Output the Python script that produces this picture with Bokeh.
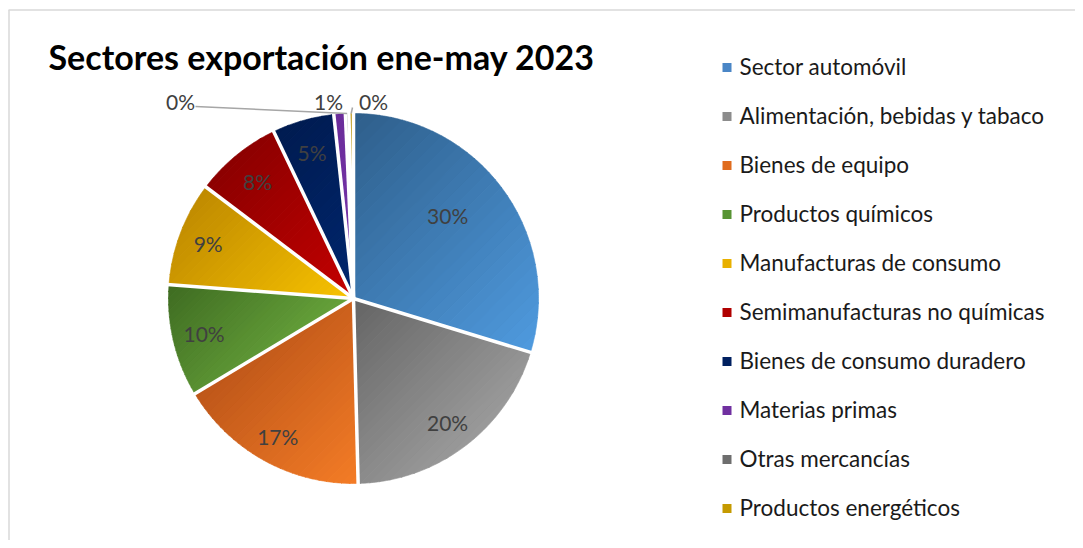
import numpy as np
from bokeh.plotting import figure
from bokeh.models import Range1d
from bokeh.core.properties import value
from bokeh.embed import file_html
from bokeh.resources import INLINE

# ---------------- data ----------------
title_text = "Sectores exportación ene-may 2023"
categories = [
    "Sector automóvil",
    "Alimentación, bebidas y tabaco",
    "Bienes de equipo",
    "Productos químicos",
    "Manufacturas de consumo",
    "Semimanufacturas no químicas",
    "Bienes de consumo duradero",
    "Materias primas",
    "Otras mercancías",
    "Productos energéticos",
]
shares = [29.7, 19.9, 16.8, 9.8, 9.1, 7.6, 5.4, 1.0, 0.3, 0.4]

# ---------------- styles ----------------
dark_colors = ["#2E5E8A", "#646464", "#BD5619", "#3E6B21", "#BF8A00",
               "#8C0000", "#001B50", "#6A2C99", "#5A5A5A", "#B58C00"]
light_colors = ["#4F9ADE", "#9A9A9A", "#F47C26", "#66A23A", "#F8C300",
                "#C40000", "#00266E", "#7A36AE", "#7A7A7A", "#D4A400"]
legend_colors = ["#4A86C6", "#8C8C8C", "#E06C1E", "#589434", "#E8B000",
                 "#B00000", "#002060", "#7030A0", "#6E6E6E", "#C59A00"]
# inside-label placement (fraction of radius, angular offset deg)
inside_frac = [0.68, 0.84, 0.85, 0.83, 0.84, 0.82, 0.82]
inside_dang = [-5, 0, 0, 0, 0, 0, 0]
# outside labels: index -> (label offset from pie centre in px (screen), leader end offset from label)
outside = {7: ((-25, -197), None), 8: ((-173, -197), (15, 5)), 9: ((20, -197), (-21, 6))}

W, H = 1075, 540
FONT = "Lato"


def hex2rgb(h):
    h = h.lstrip("#")
    return np.array([int(h[i:i + 2], 16) for i in (0, 2, 4)], dtype=float)


def rgb2hex(c):
    c = np.clip(np.round(c), 0, 255).astype(int)
    return "#%02x%02x%02x" % tuple(c)


def sx(x):
    return x


def sy(y):
    return H - y


def clip(poly, a, b, c):
    out = []
    n = len(poly)
    for i in range(n):
        p1 = poly[i]
        p2 = poly[(i + 1) % n]
        v1 = a * p1[0] + b * p1[1] + c
        v2 = a * p2[0] + b * p2[1] + c
        if v1 >= 0:
            out.append(p1)
        if (v1 >= 0) != (v2 >= 0):
            t = v1 / (v1 - v2)
            out.append((p1[0] + t * (p2[0] - p1[0]), p1[1] + t * (p2[1] - p1[1])))
    return out


p = figure(width=W, height=H, x_range=Range1d(0, W), y_range=Range1d(0, H),
           min_border=0, toolbar_location=None, output_backend="svg",
           x_axis_location=None, y_axis_location=None)
p.grid.visible = False
p.outline_line_color = None
p.background_fill_color = "white"

# chart border (top & left visible)
p.segment(x0=[sx(8), sx(8.5)], y0=[sy(9.5), sy(9.5)], x1=[W, sx(8.5)], y1=[sy(9.5), 0],
          line_color="#D9D9D9", line_width=1.5)

cx, cy = sx(353), sy(298)
R = 185.0

frac = np.array(shares) / np.sum(shares)
cum = np.concatenate([[0], np.cumsum(frac)]) * 2 * np.pi  # clockwise from 12 o'clock

xs, ys, cols = [], [], []
K = 30
for i in range(len(shares)):
    t0, t1 = cum[i], cum[i + 1]
    n = max(6, int(np.degrees(t1 - t0) * 1.5))
    th = np.linspace(t0, t1, n)
    poly = [(cx, cy)] + [(cx + R * np.sin(t), cy + R * np.cos(t)) for t in th]
    proj = [(x - y) for x, y in poly]
    pmin, pmax = min(proj), max(proj)
    c0, c1 = hex2rgb(dark_colors[i]), hex2rgb(light_colors[i])
    edges = np.linspace(pmin, pmax, K + 1)
    for k in range(K):
        lo, hi = edges[k] - 0.4, edges[k + 1] + 0.4
        q = clip(poly, 1, -1, -lo)
        if len(q) < 3:
            continue
        q = clip(q, -1, 1, hi)
        if len(q) < 3:
            continue
        col = rgb2hex(c0 + (c1 - c0) * (k + 0.5) / K)
        xs.append([pt[0] for pt in q])
        ys.append([pt[1] for pt in q])
        cols.append(col)

p.patches(xs=xs, ys=ys, fill_color=cols, line_color=cols, line_width=0.6)

# white separators
sep_x0 = [cx] * len(shares)
sep_y0 = [cy] * len(shares)
sep_x1 = [cx + (R + 2) * np.sin(t) for t in cum[:-1]]
sep_y1 = [cy + (R + 2) * np.cos(t) for t in cum[:-1]]
p.segment(x0=sep_x0, y0=sep_y0, x1=sep_x1, y1=sep_y1, line_color="white", line_width=3.5)

labels = ["%d%%" % int(round(s)) for s in shares]

# inside labels
lx, ly, lt = [], [], []
for i in range(7):
    mid = (cum[i] + cum[i + 1]) / 2 + np.radians(inside_dang[i])
    r = R * inside_frac[i]
    lx.append(cx + r * np.sin(mid))
    ly.append(cy + r * np.cos(mid))
    lt.append(labels[i])
p.text(x=lx, y=ly, text=lt, text_font=value(FONT), text_font_size="21px",
       text_color="#404040", text_align="center", text_baseline="middle")

# outside labels with leader lines
ox, oy, ot = [], [], []
for i, (off, lead) in outside.items():
    tx, ty = cx + off[0], cy - off[1]
    ox.append(tx)
    oy.append(ty)
    ot.append(labels[i])
    if lead is not None:
        mid = (cum[i] + cum[i + 1]) / 2
        x0, y0 = cx + R * np.sin(mid), cy + R * np.cos(mid)
        x1, y1 = tx + lead[0], ty - lead[1]
        p.line(x=[x0, x1], y=[y0, y1], line_color="#A6A6A6", line_width=1.5)
p.text(x=ox, y=oy, text=ot, text_font=value(FONT), text_font_size="21px",
       text_color="#404040", text_align="center", text_baseline="middle")

# title
p.text(x=[sx(48)], y=[sy(56)], text=[title_text], text_font=value(FONT),
       text_font_size="34px", text_font_style="bold", text_color="#000000",
       text_align="left", text_baseline="middle")

# legend
leg_y = [sy(67 + 49 * i) for i in range(len(categories))]
p.rect(x=[sx(726.5)] * len(categories), y=leg_y, width=9, height=9,
       fill_color=legend_colors, line_color=None)
p.text(x=[sx(739)] * len(categories), y=[v + 1 for v in leg_y], text=categories,
       text_font=value(FONT), text_font_size="22.5px", text_color="#1A1A1A",
       text_align="left", text_baseline="middle")

open("out.html", "w").write(file_html(p, INLINE))
